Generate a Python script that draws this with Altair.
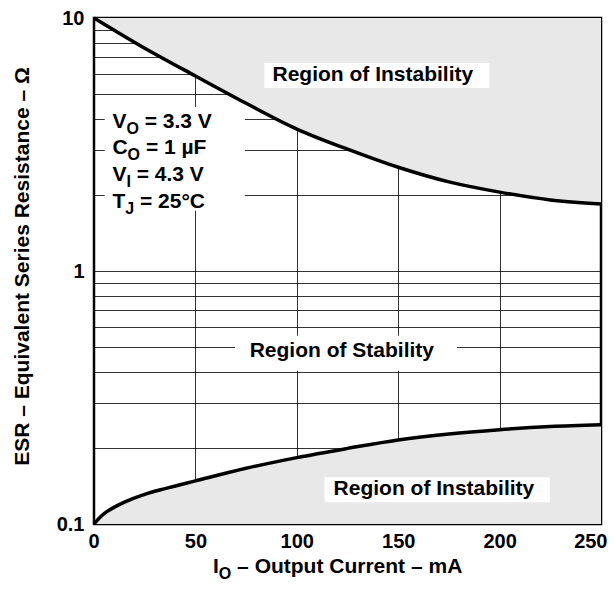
import altair as alt
import pandas as pd

# ---- data ----
current_up = [0, 10, 25, 50, 75, 100, 125, 150, 175, 200, 225, 250]
esr_upper = [10.0, 8.95, 7.6, 5.9, 4.6, 3.64, 3.03, 2.57, 2.25, 2.05, 1.91, 1.84]

current_low = [0, 5, 15, 25, 35, 50, 75, 100, 125, 150, 175, 200, 225, 250]
esr_lower = [0.100, 0.110, 0.122, 0.131, 0.138, 0.148, 0.166, 0.183, 0.199,
             0.215, 0.227, 0.236, 0.243, 0.247]

x_ticks = [0, 50, 100, 150, 200, 250]
y_grid = [0.1, 0.2, 0.3, 0.4, 0.5, 0.6, 0.7, 0.8, 0.9,
          1, 2, 3, 4, 5, 6, 7, 8, 9, 10]
y_labels = ["0.1", "1", "10"]

# annotations (data coordinates)
region_labels = ["Region of Instability", "Region of Stability", "Region of Instability"]
region_x = [137.5, 122.2, 167.6]
region_y = [5.955, 0.484, 0.1375]

box_x0 = [84, 69.5, 113.7, 5.3]
box_x1 = [195, 179, 224.8, 74.4]
box_y0 = [5.29, 0.4037, 0.122, 1.729]
box_y1 = [6.64, 0.555, 0.153, 4.452]

cond_main = ["V", "C", "V", "T"]
cond_sub = ["O", "O", "I", "J"]
cond_rest = ["= 3.3 V", "= 1 \u00b5F", "= 4.3 V", "= 25\u00b0C"]
cond_y = [3.688, 2.896, 2.272, 1.782]
cond_x = 9.1

FONT = "Liberation Sans"
INTERP = "catmull-rom"

up = pd.DataFrame({"I": current_up, "ESR": esr_upper, "ESR2": [10.0] * len(current_up)})
low = pd.DataFrame({"I": current_low, "ESR": esr_lower, "ESR2": [0.1] * len(current_low)})

label_expr = " : ".join(
    f"datum.value == {v} ? '{v}'" for v in y_labels) + " : ''"

xs = alt.Scale(domain=[0, 250], nice=False, zero=False)
ys = alt.Scale(type="log", domain=[0.1, 10], nice=False, zero=False)

X = alt.X("I:Q", scale=xs,
          axis=alt.Axis(values=x_ticks, title=None, ticks=False, domain=False,
                        labelFontSize=20, labelFontWeight="bold", labelPadding=7,
                        labelFont=FONT, labelColor="black", labelFlush=True,
                        labelFlushOffset=6, labelBound=False,
                        gridColor="black", gridOpacity=0.8, gridWidth=1))
Y = alt.Y("ESR:Q", scale=ys,
          axis=alt.Axis(values=y_grid, labelExpr=label_expr, ticks=False, domain=False,
                        labelFontSize=20, labelFontWeight="bold", labelPadding=10,
                        labelFont=FONT, labelColor="black", labelOverlap=False,
                        labelBaseline="middle",
                        gridColor="black", gridOpacity=0.8, gridWidth=1,
                        title="ESR \u2013 Equivalent Series Resistance \u2013 \u03a9",
                        titleFont=FONT, titleFontSize=21, titleFontWeight="bold",
                        titleColor="black", titleAngle=270, titleAlign="center",
                        titleBaseline="middle", titleX=-72, titleY=248))

area_up = alt.Chart(up).mark_area(color="#e8e8e8", interpolate=INTERP, opacity=1).encode(
    x=X, y=Y, y2="ESR2")
area_low = alt.Chart(low).mark_area(color="#e8e8e8", interpolate=INTERP, opacity=1).encode(
    x=X, y=Y, y2="ESR2")

boxes = pd.DataFrame({"I": box_x0, "I2": box_x1, "ESR": box_y0, "ESR2": box_y1})
box_layer = alt.Chart(boxes).mark_rect(color="white", opacity=1).encode(
    x=X, x2="I2", y=Y, y2="ESR2")

line_up = alt.Chart(up).mark_line(color="black", strokeWidth=3.5, interpolate=INTERP).encode(x=X, y=Y)
line_low = alt.Chart(low).mark_line(color="black", strokeWidth=3.5, interpolate=INTERP).encode(x=X, y=Y)

reg = pd.DataFrame({"I": region_x, "ESR": region_y, "t": region_labels})
reg_text = alt.Chart(reg).mark_text(font=FONT, fontSize=21, fontWeight="bold", color="black",
                                    align="center", baseline="middle").encode(
    x=X, y=Y, text="t:N")

layers = [area_up, area_low, box_layer, line_up, line_low, reg_text]

MAIN = 21
SUB = 16
SPACE = 0.278 * MAIN


def w_main(ch):
    widths = {"V": 0.667, "C": 0.722, "T": 0.611, "I": 0.278}
    return widths[ch] * MAIN


def w_sub(ch):
    widths = {"O": 0.778, "I": 0.278, "J": 0.556}
    return widths[ch] * SUB


for m, s, r, yv in zip(cond_main, cond_sub, cond_rest, cond_y):
    d = pd.DataFrame({"I": [cond_x], "ESR": [yv], "m": [m], "s": [s], "r": [r]})
    base = alt.Chart(d)
    layers.append(base.mark_text(font=FONT, fontSize=MAIN, fontWeight="bold", color="black",
                                 align="left", baseline="alphabetic").encode(x=X, y=Y, text="m:N"))
    layers.append(base.mark_text(font=FONT, fontSize=SUB, fontWeight="bold", color="black",
                                 align="left", baseline="alphabetic", dx=w_main(m), dy=6
                                 ).encode(x=X, y=Y, text="s:N"))
    layers.append(base.mark_text(font=FONT, fontSize=MAIN, fontWeight="bold", color="black",
                                 align="left", baseline="alphabetic",
                                 dx=w_main(m) + w_sub(s) + SPACE
                                 ).encode(x=X, y=Y, text="r:N"))

# x axis title with subscript (pixel positions below the plot area)
xt_left = 119
xt_base = 555
xt = pd.DataFrame({"a": ["I"], "b": ["O"], "c": ["\u2013 Output Current \u2013 mA"]})
xbase = alt.Chart(xt)
layers.append(xbase.mark_text(font=FONT, fontSize=MAIN, fontWeight="bold", color="black",
                              align="left", baseline="alphabetic").encode(
    x=alt.value(xt_left), y=alt.value(xt_base), text="a:N"))
layers.append(xbase.mark_text(font=FONT, fontSize=SUB, fontWeight="bold", color="black",
                              align="left", baseline="alphabetic").encode(
    x=alt.value(xt_left + w_main("I")), y=alt.value(xt_base + 6), text="b:N"))
layers.append(xbase.mark_text(font=FONT, fontSize=MAIN, fontWeight="bold", color="black",
                              align="left", baseline="alphabetic").encode(
    x=alt.value(xt_left + w_main("I") + w_sub("O") + SPACE), y=alt.value(xt_base), text="c:N"))

chart = alt.layer(*layers).resolve_scale(x="shared", y="shared").properties(
    width=507, height=506,
    padding={"left": 86, "top": 10, "right": 7, "bottom": 58},
    autosize=alt.AutoSizeParams(type="none"),
    background="white",
).configure_view(stroke="black", strokeWidth=2.5)

chart.save("out.html", embed_options={"renderer": "svg", "actions": False})
